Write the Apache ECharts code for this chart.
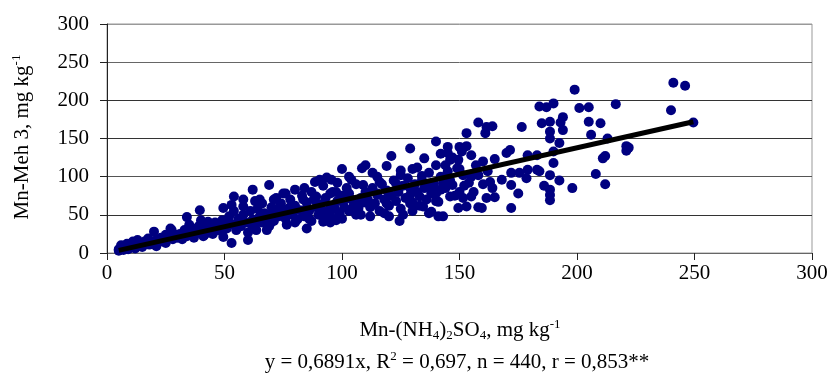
<!DOCTYPE html>
<html>
<head>
<meta charset="utf-8">
<script src="https://cdn.jsdelivr.net/npm/echarts@6/dist/echarts.min.js"></script>
<style>
  html, body { margin: 0; padding: 0; background: #fff; }
  #chart { width: 834px; height: 385px; }
</style>
</head>
<body>
<div id="chart"></div>
<script>
// Mn-(NH4)2SO4 (x) vs Mn-Meh 3 (y), mg/kg
const sparsePoints = [
  [241,223],[246,219],[240,187],[249.5,171],[222,138],
  [216.5,195],[210,170],[213,150],[221,140],[221,134],[212,127],[211,124],[212,90],
  [199,214],[184,192],[187,191],[190,196],[201,190],[205,191],[185,170],[188.5,172],
  [193,171],[194,178],[194,161],[188.5,159],[188.5,150],[192.5,144],[205,172],[206,155],
  [183,128],[190,133],[190,118],[183,109],[184,107],[188.5,102],[192.5,95],[186,88],
  [188.5,83],[188.5,76],[188.5,69],[198,85],[208,103.5]
];
const midPoints = [
  [158,171],[161,157],[164,166],[161.5,165],[153,157],[176.5,165],
  [140,146],[145,139],[150,139],[151,133],[145,131],[155,128],[171.5,135],[170,131],
  [179,128],[146,122],[149.5,122],[140,115],[144,115],[160,120],[165,123],[149,111],
  [145,107],[151.5,102],[155,100],[162,107],[172,105],[175.5,105],[179,109],[178.5,98],
  [168,96],[163,93],[172,89],[139,89],[143,91],[147,89],[142,83],[164,85],[175,78],
  [150,80],[146,74],[151.5,72],[155,74],[161.5,72],[165,73],[141,67],[149.5,59],[153,61],
  [158,60],[159.5,59],[172,59],[138,54],[143,48],
  [129,137],[121,127],[135,124],[110,115],[108.5,111],[100,110],[119,114],[113,105],
  [125,108],[130,110],[134,101],[95.5,96],[103,100],[109,89],[116,93],[123,91],[129,85],
  [137,87],[97.5,80],[103,78],[115,76],[120,78],[133,74],[140,78],[100.5,67],[107.5,65],
  [113,63],[119,65],[129,65],[96,61],[134.5,61],[137,52],[97.5,43],[106,50],[112,48],
  [120,48],[126,50],[124.5,42],[141,48]
];
const lowPoints = [
  [69,89],[93.5,99],[88.5,93],[90.5,96],[80,83],[62,83],[54,74],[75,78],[71,70],[65,70],
  [58,61],[49.5,59],[53,63],[83.5,70],[89,74],[95,78],[78.5,63],[73.5,61],[85,59],[95,54],
  [49,43],[56.5,41],[61.5,37],[69.5,39],[76.5,37],[85,32],[92,41],[97.5,45],[63.5,30],
  [68,30],[60,17],[49.5,21],[53,13],
  [5,5],[6,10],[8.5,12],[11,15],[13,17],[16,15],[17.5,19],[20,28],[22.5,17],[25,24],
  [27.5,30],[21,9],[34,47],[35,37],[39.5,56],[40,43],[43,41],[36,24],[41.5,24],[32,21],[27,32]
];
const densePoints = [
  [5,3],[6,6],[7,4],[8,8],[9,5],[10,7],[11,9],[12,6],[13,12],[14,10],[15,8],[16,13],[18,11],
  [19,15],[20,12],[21,17],[22,14],[23,20],[24,16],[25,13],[26,19],[27,22],[28,18],[29,24],[30,20],
  [31,25],[32,18],[33,30],[34,22],[35,28],[36,32],[37,20],[38,26],[39,35],[40,30],[41,22],
  [42,38],[43,27],[44,33],[45,25],[46,40],[47,30],[48,36],[49,28],[50,42],
  [51,32],[52,48],[53,38],[54,55],[55,30],[56,45],[57,35],[58,50],[59,40],[60,27],[61,55],
  [62,44],[63,36],[64,58],[65,48],[66,40],[67,52],[68,45],[69,35],[70,60],[66,65],[63,68],
  [58,70],[70,50],
  [71,42],[72,55],[73,48],[74,65],[75,52],[76,45],[77,58],[78,70],[79,50],[80,62],[81,44],
  [82,56],[83,75],[84,48],[85,66],[86,55],[87,42],[88,70],[89,60],[90,50],[72,72],[76,78],
  [84,85],[87,80],[80,40],[86,45],
  [91,64],[92,55],[93,72],[94,48],[95,62],[96,80],[97,58],[98,68],[99,52],[100,75],[101,60],
  [102,85],[103,55],[104,70],[105,62],[106,90],[107,58],[108,72],[109,66],[110,80],[92,88],
  [98,92],[104,96],[100,45],[95,40],[108,50],
  [111,70],[112,60],[113,85],[114,65],[115,78],[116,55],[117,90],[118,70],[119,82],[120,62],
  [121,75],[122,95],[123,68],[124,80],[125,58],[126,88],[127,72],[128,98],[129,76],[130,66],
  [131,90],[132,80],[133,62],[134,95],[135,85],[136,70],[137,105],[138,78],[139,92],[140,68],
  [115,100],[125,102],[132,112],[118,52],[130,55],
  [142,100],[144,85],[146,95],[148,75],[150,110],[152,88],[154,92],[156,80],[158,102],[160,90],
  [147,125],[153,140],[142,130],[157,115]
];
const trendSlope = 0.6891;
const trendX = [5, 249.5];
const axisTicks = [0, 50, 100, 150, 200, 250, 300];

const allPoints = sparsePoints.concat(midPoints, lowPoints, densePoints);
const trendData = trendX.map(x => [x, trendSlope * x]);

const serif = 'Liberation Serif, Times New Roman, serif';
const chart = echarts.init(document.getElementById('chart'), null, { renderer: 'canvas' });

const axisCommon = {
  type: 'value',
  min: axisTicks[0],
  max: axisTicks[axisTicks.length - 1],
  interval: 50,
  axisTick: { show: true, length: 7, lineStyle: { color: '#222' } },
  axisLabel: { fontFamily: serif, fontSize: 21, color: '#000' }
};

chart.setOption({
  animation: false,
  grid: { left: 107, right: 22, top: 24, bottom: 132, show: true, borderColor: '#999', borderWidth: 1 },
  xAxis: Object.assign({}, axisCommon, {
    axisLine: { lineStyle: { color: '#666' } },
    axisLabel: Object.assign({}, axisCommon.axisLabel, { margin: 10 }),
    splitLine: { show: false }
  }),
  yAxis: Object.assign({}, axisCommon, {
    axisLine: { show: true, lineStyle: { color: '#222' } },
    axisLabel: Object.assign({}, axisCommon.axisLabel, { margin: 18 }),
    splitLine: { show: true, lineStyle: { color: ['#222', '#333', '#555', '#333', '#333', '#666', '#999'] } }
  }),
  series: [
    {
      type: 'scatter',
      data: allPoints,
      symbolSize: 10,
      itemStyle: { color: '#000080', opacity: 1 },
      z: 2
    },
    {
      type: 'line',
      data: trendData,
      symbol: 'none',
      lineStyle: { color: '#000', width: 5 },
      z: 3
    }
  ],
  graphic: [
    {
      type: 'text',
      x: 22, y: 137,
      rotation: Math.PI / 2,
      style: {
        text: '{a|Mn-Meh 3, mg kg}{sup|-1}',
        align: 'center', verticalAlign: 'middle',
        rich: {
          a: { fontFamily: serif, fontSize: 21, lineHeight: 24, fill: '#000' },
          sup: { fontFamily: serif, fontSize: 13, lineHeight: 13, verticalAlign: 'top', fill: '#000' }
        }
      }
    },
    {
      type: 'text',
      x: 460, y: 330,
      style: {
        text: '{a|Mn-(NH}{sub|4}{a|)}{sub|2}{a|SO}{sub|4}{a|, mg kg}{sup|-1}',
        align: 'center', verticalAlign: 'middle',
        rich: {
          a: { fontFamily: serif, fontSize: 21, lineHeight: 24, fill: '#000' },
          sub: { fontFamily: serif, fontSize: 13, lineHeight: 13, verticalAlign: 'bottom', fill: '#000' },
          sup: { fontFamily: serif, fontSize: 13, lineHeight: 13, verticalAlign: 'top', fill: '#000' }
        }
      }
    },
    {
      type: 'text',
      x: 457, y: 362,
      style: {
        text: '{a|y = 0,6891x, R}{sup|2}{a| = 0,697, n = 440, r = 0,853**}',
        align: 'center', verticalAlign: 'middle',
        rich: {
          a: { fontFamily: serif, fontSize: 21, lineHeight: 24, fill: '#000' },
          sup: { fontFamily: serif, fontSize: 13, lineHeight: 13, verticalAlign: 'top', fill: '#000' }
        }
      }
    }
  ]
});
</script>
</body>
</html>
